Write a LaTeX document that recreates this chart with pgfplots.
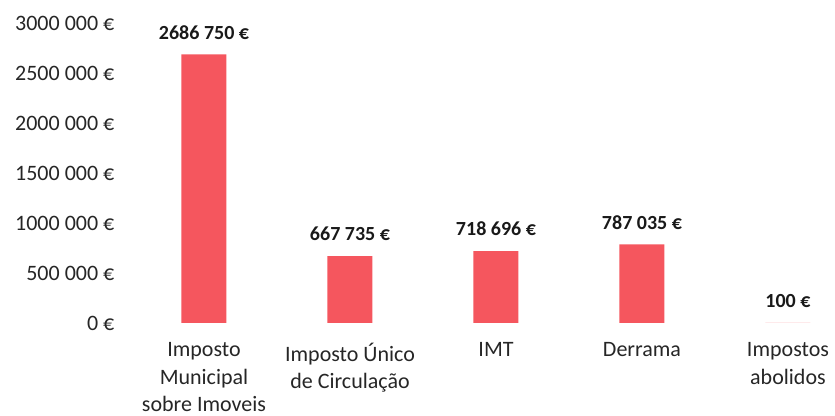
\documentclass[border=0pt]{standalone}
\usepackage{fontspec}
\setmainfont{Carlito}
\usepackage{pgfplots}
\pgfplotsset{compat=1.18}
\definecolor{barred}{RGB}{245,86,94}
\begin{document}
\begin{tikzpicture}
\begin{axis}[
  at={(0,0)}, anchor=south west,
  scale only axis, width=352pt, height=150pt,
  xmin=-0.5, xmax=4.322, ymin=0, ymax=3000000,
  axis line style={draw=none},
  tick style={draw=none}, major tick length=0pt,
  scaled y ticks=false,
  ytick={0,500000,1000000,1500000,2000000,2500000,3000000},
  yticklabels={0 €, 500 000 €, 1000 000 €, 1500 000 €, 2000 000 €, 2500 000 €, 3000 000 €},
  yticklabel style={font=\fontsize{11}{13}\selectfont, anchor=east, xshift=-4.8pt, text=black!85},
  xtick={0,1,2,3,4},
  xticklabels={{Imposto\\Municipal\\sobre Imoveis},{Imposto Único\\de Circulação},{IMT},{Derrama},{Impostos\\abolidos}},
  xticklabel style={font=\fontsize{11}{13.8}\selectfont, align=center, anchor=north, yshift=-6.3pt, text=black!85},
  ybar, bar width=22.5pt,
  nodes near coords, point meta=explicit symbolic,
  every node near coord/.append style={font=\bfseries\fontsize{10}{12}\selectfont, anchor=center, yshift=11pt, text=black!90},
]
\addplot[fill=barred, draw=none] coordinates {
  (0,2686750) [2686 750 €]
  (1,667735) [667 735 €]
  (2,718696) [718 696 €]
  (3,787035) [787 035 €]
  (4,100) [100 €]
};
\end{axis}
\pgfresetboundingbox
\useasboundingbox (-65.5pt,-46.5pt) rectangle (352pt,161.5pt);
\end{tikzpicture}
\end{document}
